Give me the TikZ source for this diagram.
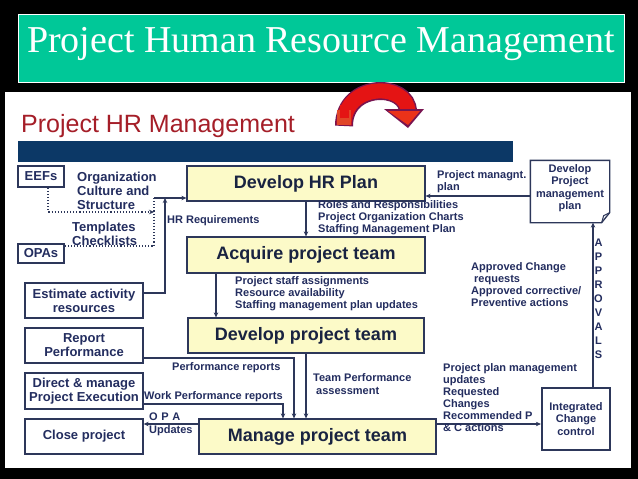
\documentclass[tikz,border=0pt]{standalone}
\usepackage{fontspec}
\setmainfont{Liberation Sans}
\newfontfamily\titlefont{Liberation Serif}
\usetikzlibrary{arrows.meta,calc}
\definecolor{titlegreen}{RGB}{0,200,152}
\definecolor{barblue}{RGB}{12,56,102}
\definecolor{hrred}{RGB}{165,30,40}
\definecolor{boxyellow}{RGB}{252,250,200}
\definecolor{navy}{RGB}{35,45,95}
\definecolor{boxtext}{RGB}{25,35,65}
\definecolor{linecol}{RGB}{45,55,90}
\definecolor{arrowred}{RGB}{228,20,20}
\definecolor{arrowdark}{RGB}{120,20,80}
\definecolor{headred}{RGB}{235,50,25}
\definecolor{footred}{RGB}{225,70,40}
\begin{document}
\begin{tikzpicture}[x=1pt,y=-1pt,
  box/.style={draw=linecol, line width=1.3pt, fill=white, text=navy,
    font=\fontsize{13}{14}\selectfont\bfseries, align=center, inner sep=0pt},
  smallbox/.style={box, font=\fontsize{11}{12.5}\selectfont\bfseries},
  mainbox/.style={draw=linecol, line width=1.2pt, fill=boxyellow, text=boxtext,
    font=\fontsize{18}{20}\selectfont\bfseries, inner sep=0pt},
  lbl/.style={text=navy, font=\fontsize{11}{12}\selectfont\bfseries, align=left,
    inner sep=0pt, anchor=west},
  biglbl/.style={lbl, font=\fontsize{13}{14}\selectfont\bfseries},
  conn/.style={draw=linecol, line width=1.1pt},
  tip/.style={-{Stealth[length=5pt,width=4.5pt]}},
  dots/.style={draw=linecol, line width=1.1pt, dotted}
]
\fill[black] (0,0) rectangle (638,479);
\useasboundingbox (0,0) rectangle (638,479);
% title
\node[draw=white, line width=0.8pt, fill=titlegreen, minimum width=606pt,
  minimum height=68pt, inner sep=0pt] (titlebox) at (321,48) {};
\node[text=white, font=\titlefont\fontsize{38}{40}\selectfont, inner sep=0pt]
  (titletext) at (321,44.5) {Project Human Resource Management};
% slide panel
\fill[white] (5,92) rectangle (631,468);
\node[text=hrred, font=\fontsize{25}{28}\selectfont, inner sep=0pt, anchor=base west]
  (subtitle) at (21,132) {Project HR Management};
\fill[barblue] (18,141) rectangle (513,162);
% red curved arrow
\draw[arrowdark, line width=18pt] (344,126) .. controls (344,82) and (408,82) .. (408,112);
\draw[arrowred, line width=15pt] (344,125) .. controls (344,82) and (408,82) .. (408,112);
\fill[footred] (337,125) rectangle (351,110);
\draw[arrowred, line width=9pt] (344,118) -- (344,105);
\fill[arrowdark] (384,109) -- (424,109) -- (408,128) -- cycle;
\fill[headred] (388,111) -- (420,111) -- (408,125) -- cycle;
% main process boxes
\node[mainbox, minimum width=238pt, minimum height=35pt] (hrplan) at (306,183.5) {Develop HR Plan};
\node[mainbox, minimum width=238pt, minimum height=36pt] (acquire) at (306,255) {Acquire project team};
\node[mainbox, minimum width=236pt, minimum height=35pt] (develop) at (306,335.5) {Develop project team};
\node[mainbox, minimum width=237pt, minimum height=35pt] (manage) at (317.5,436.5) {Manage project team};
% left boxes
\node[box, minimum width=46pt, minimum height=21pt] (eefs) at (41,176.5) {EEFs};
\node[box, minimum width=46pt, minimum height=19pt] (opas) at (41,253.5) {OPAs};
\node[box, minimum width=118pt, minimum height=35pt] (est) at (84,300.5) {Estimate activity\\resources};
\node[box, minimum width=118pt, minimum height=35pt] (rep) at (84,345.5) {Report\\Performance};
\node[box, minimum width=118pt, minimum height=36pt] (dir) at (84,391) {Direct \& manage\\Project Execution};
\node[box, minimum width=118pt, minimum height=35pt] (close) at (84,436.5) {Close project};
% right boxes
\node[smallbox, draw=none, fill=none, minimum width=78pt, minimum height=61pt] (pm) at (570,188)
  {Develop\\Project\\management\\plan};
\draw[draw=linecol, line width=1.3pt] ([yshift=-3.5pt]pm.north west) -- ([yshift=-3.5pt]pm.north east)
  -- ([yshift=6.5pt]pm.south east) -- ([xshift=-8pt,yshift=-3.5pt]pm.south east)
  -- ([yshift=-3.5pt]pm.south west) -- cycle;
\draw[draw=linecol, line width=1pt] ([xshift=-8pt,yshift=-3.5pt]pm.south east)
  -- ([xshift=-6pt,yshift=3.5pt]pm.south east) -- ([yshift=6.5pt]pm.south east);
\coordinate (pmbot) at ([yshift=-3.5pt]pm.south);
\node[smallbox, line width=2.2pt, minimum width=68pt, minimum height=62pt] (icc) at (576,419)
  {Integrated\\Change\\control};
% junction coordinates
\coordinate (jtop) at (154,198);
\coordinate (jmid) at (154,212);
\coordinate (jbot) at (154,246);
\coordinate (jsol) at (165,198);
% connectors
\draw[dots, tip] ([xshift=7pt]eefs.south) |- (jmid);
\draw[dots] (jtop) -- (jbot);
\draw[dots] (opas.east |- jbot) -- (jbot);
\draw[conn, tip] (jtop) -- (jtop -| hrplan.west);
\draw[conn, tip] ([yshift=7.5pt]est.east) -| (jsol);
\draw[conn, tip] (hrplan.south) -- (acquire.north);
\draw[conn, tip] ([xshift=-90pt]acquire.south) -- ([xshift=-90pt]acquire.south |- develop.north);
\draw[conn, tip] (develop.south) -- (develop.south |- manage.north);
\draw[conn, tip] ([yshift=-12.5pt]rep.east) -| ([xshift=-23.5pt]manage.north);
\draw[conn, tip] ([yshift=-13pt]dir.east) -| ([xshift=-34.5pt]manage.north);
\draw[conn, tip] ([yshift=12.5pt]manage.west) -- ([yshift=12.5pt]manage.west -| close.east);
\draw[conn, tip] ([yshift=12.5pt]manage.east) -- ([yshift=12.5pt]manage.east -| icc.west);
\draw[conn, tip] ([xshift=17pt]icc.north) -- ([xshift=17pt]icc.north |- pmbot);
\draw[conn, tip] ([yshift=-8pt]pm.west) -- ([yshift=-8pt]pm.west -| hrplan.east);
% labels
\node[biglbl] (orglbl) at (77,191) {Organization\\Culture and\\Structure};
\node[biglbl] (tmpllbl) at (72,234) {Templates\\Checklists};
\node[lbl] (hrreq) at (167,221) {HR Requirements};
\node[lbl] (roles) at (318,218) {Roles and Responsibilities\\Project Organization Charts\\Staffing Management Plan};
\node[lbl] (pmlbl) at (437,182) {Project managnt.\\plan};
\node[lbl] (apprlbl) at (471,285) {Approved Change\\\hspace*{3pt}requests\\Approved corrective/\\Preventive actions};
\node[lbl] (staff) at (235,294) {Project staff assignments\\Resource availability\\Staffing management plan updates};
\node[lbl] (perf) at (172,368) {Performance reports};
\node[lbl] (workperf) at (144,397) {Work Performance reports};
\node[lbl, font=\fontsize{11}{13}\selectfont\bfseries] (teamperf) at (313,384.5) {Team Performance\\\hspace*{3pt}assessment};
\node[lbl] (ppm) at (443,398) {Project plan management\\updates\\Requested\\Changes\\Recommended P\\\& C actions};
\node[lbl, font=\fontsize{11}{13}\selectfont\bfseries] (opa) at (149,424.5) {O\,\,P\,\,A\\Updates};
\node[lbl, anchor=center, align=center, font=\fontsize{11}{14}\selectfont\bfseries] (approvals) at (598.5,299)
  {A\\P\\P\\R\\O\\V\\A\\L\\S};
\end{tikzpicture}
\end{document}
